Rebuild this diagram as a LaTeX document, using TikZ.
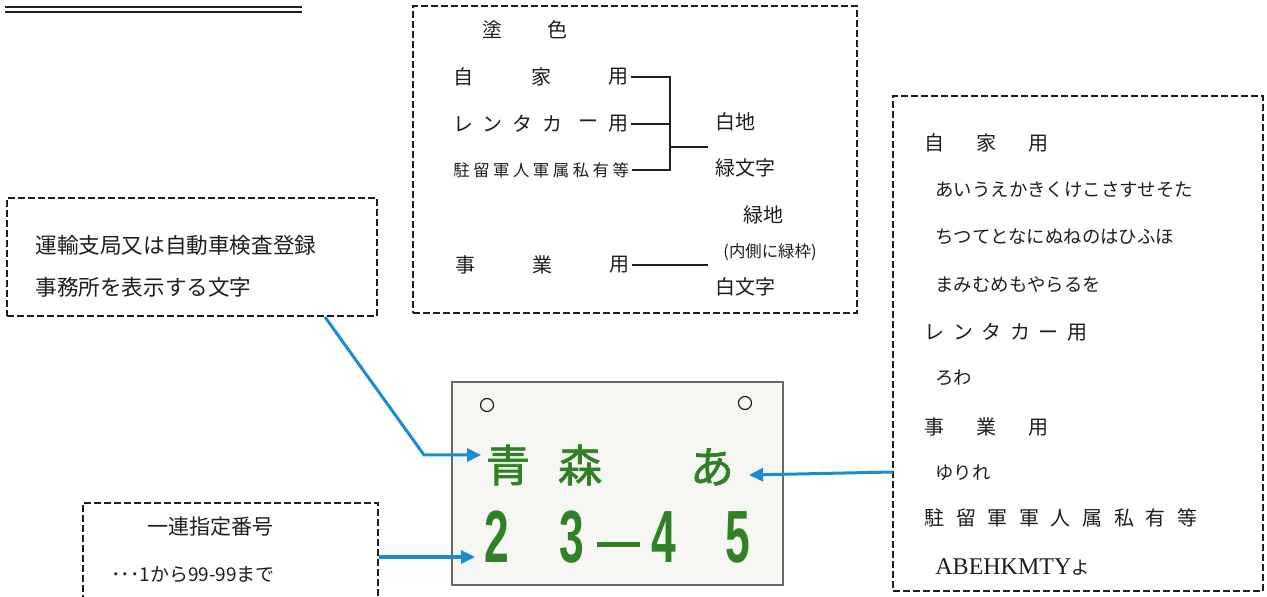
\documentclass[tikz,border=0pt]{standalone}
\usepackage{fontspec}
\setmainfont{Noto Sans CJK JP}
\newfontfamily\latser{Liberation Serif}
\newfontfamily\platenum{Liberation Sans}
\newfontfamily\platejp[FakeBold=1.6]{Noto Sans CJK JP}
\usetikzlibrary{arrows.meta,calc}
\makeatletter
\newcommand\ltsp[2]{\def\lt@sep{}\@tfor\lt@c:=#2\do{\lt@sep\lt@c\def\lt@sep{\hspace{#1}}}}
\makeatother
\definecolor{arrowblue}{RGB}{28,140,210}
\definecolor{plategreen}{RGB}{48,128,38}
\definecolor{platebg}{RGB}{246,246,243}
\definecolor{plateedge}{RGB}{105,105,105}
\definecolor{ink}{RGB}{30,30,30}
\begin{document}
\begin{tikzpicture}[x=0.5pt,y=-0.5pt,
  dbox/.style={draw=ink, dash pattern=on 3.5pt off 1.5pt, line width=0.8pt, inner sep=0pt},
  txt/.style={inner sep=0pt, text=ink, font=\fontsize{10}{12}\selectfont},
  smalltxt/.style={inner sep=0pt, text=ink, font=\fontsize{8.2}{10}\selectfont},
  boxtxt/.style={inner sep=0pt, text=ink, font=\fontsize{10.8}{13}\selectfont, anchor=west},
  rtxt/.style={inner sep=0pt, text=ink, font=\fontsize{9.2}{11}\selectfont, anchor=west},
  rhead/.style={inner sep=0pt, text=ink, font=\fontsize{10}{12}\selectfont, anchor=west},
  link/.style={draw=ink, line width=0.8pt},
  bluearrow/.style={draw=arrowblue, line width=1.5pt, -{Triangle[length=7pt,width=6.5pt]}},
  platechar/.style={inner sep=0pt, text=plategreen, font=\platejp\fontsize{22}{24}\selectfont},
  platedigit/.style={inner sep=0pt, text=plategreen, font=\platenum\bfseries\fontsize{37}{40}\selectfont, xscale=0.6},
  hole/.style={circle, draw=ink, line width=0.6pt, minimum size=6.5pt, inner sep=0pt}
]
\clip (0,0) rectangle (1267,597);
\fill[white] (0,0) rectangle (1267,597);

% double rule top left
\draw[ink, line width=1pt] (5,7) -- (302,7);
\draw[ink, line width=1.1pt] (5,12) -- (302,12);

% ---------- top box ----------
\node[dbox, minimum width=222pt, minimum height=153.5pt] (topbox) at (635,159.5) {};
\node[txt] (to) at (492,30) {塗};
\node[txt] (iro) at (557,30) {色};

\node[txt] (r1a) at (463,77) {自};
\node[txt] (r1b) at (541,77) {家};
\node[txt] (r1c) at (618,77) {用};

\node[txt] (r2a) at (463,124) {レ};
\node[txt] (r2b) at (492,124) {ン};
\node[txt] (r2c) at (522,124) {タ};
\node[txt] (r2d) at (552,124) {カ};
\node[txt] (r2e) at (588,124) {ー};
\node[txt] (r2f) at (618,124) {用};

\node[smalltxt, anchor=west] (r3) at (453,170) {\ltsp{1.75pt}{駐留軍人軍属私有等}};

\node[txt] (r4a) at (465,265) {事};
\node[txt] (r4b) at (542,265) {業};
\node[txt] (r4c) at (619,265) {用};

\coordinate (vt) at (670,77);
\coordinate (vb) at (670,170);
\coordinate (vm) at (670,147);
\coordinate (hm) at (708,147);
\coordinate (he) at (708,265);
\draw[link] ($(r1c.east)+(3,0)$) -- (vt) -- (vb) -- ($(r3.east)+(3,0)$);
\draw[link] ($(r2f.east)+(3,0)$) -- (vt |- r2f);
\draw[link] (vm) -- (hm);
\draw[link] ($(r4c.east)+(3,0)$) -- (he);

\node[txt] (shiroji) at (735,122) {白地};
\node[txt] (midori) at (745,168) {緑文字};
\node[txt] (midoriji) at (763,215) {緑地};
\node[smalltxt] (uchigawa) at (770,252) {(内側に緑枠)};
\node[txt] (shiromoji) at (745,287) {白文字};

% ---------- left box ----------
\node[dbox, minimum width=185pt, minimum height=59pt] (lbox) at (192,257) {};
\node[boxtxt] (l1) at (35,245) {運輸支局又は自動車検査登録};
\node[boxtxt] (l2) at (35,287) {事務所を表示する文字};

% ---------- bottom-left box ----------
\node[dbox, minimum width=147.5pt, minimum height=54pt] (blbox) at (230.5,557) {};
\node[txt, font=\fontsize{10.5}{12}\selectfont] (b1) at (210,527) {一連指定番号};
\node[txt, font=\fontsize{9.5}{11}\selectfont] (b2) at (193,575) {･･･1から99-99まで};

% ---------- right box ----------
\node[dbox, minimum width=185pt, minimum height=247.5pt] (rbox) at (1078,343.5) {};
\node[rhead] (h1) at (924,143) {\ltsp{16pt}{自家用}};
\node[rtxt] (k1) at (935,190) {あいうえかきくけこさすせそた};
\node[rtxt] (k2) at (935,237) {ちつてとなにぬねのはひふほ};
\node[rtxt] (k3) at (935,285) {まみむめもやらるを};
\node[rhead] (h2) at (924,332) {\ltsp{4.3pt}{レンタカー用}};
\node[rtxt] (k4) at (935,378) {ろわ};
\node[rhead] (h3) at (924,427) {\ltsp{16pt}{事業用}};
\node[rtxt] (k5) at (935,473) {ゆりれ};
\node[rhead] (h4) at (924,518) {\ltsp{5.8pt}{駐留軍軍人属私有等}};
\node[rtxt] (k6) at (935,567) {{\latser\fontsize{12}{13}\selectfont ABEHKMTY}よ};

% ---------- plate ----------
\node[draw=plateedge, fill=platebg, line width=0.7pt, minimum width=165.5pt, minimum height=101.5pt, inner sep=0pt] (plate) at (617.5,483.5) {};
\node[hole] (hole1) at (487,405) {};
\node[hole] (hole2) at (745,403) {};
\node[platechar] (ao) at (508,465) {青};
\node[platechar] (mori) at (580,465) {森};
\node[platechar] (a) at (712,467) {あ};
\node[platedigit] (d2) at (497,537) {2};
\node[platedigit] (d3) at (572,537) {3};
\fill[plategreen] (597,542) rectangle (640,547);
\node[platedigit] (d4) at (664,537) {4};
\node[platedigit] (d5) at (738,537) {5};

% ---------- arrows ----------
\coordinate (a1s) at (325,317);
\coordinate (a1k) at (424,455);
\coordinate (a1e) at (481,455);
\draw[bluearrow] (a1s) -- (a1k) -- (a1e);
\coordinate (a2e) at (475,557);
\draw[bluearrow] (blbox.east |- a2e) -- (a2e);
\coordinate (a3s) at (893,472);
\coordinate (a3e) at (749,475);
\draw[bluearrow] (a3s) -- (a3e);
\end{tikzpicture}
\end{document}
